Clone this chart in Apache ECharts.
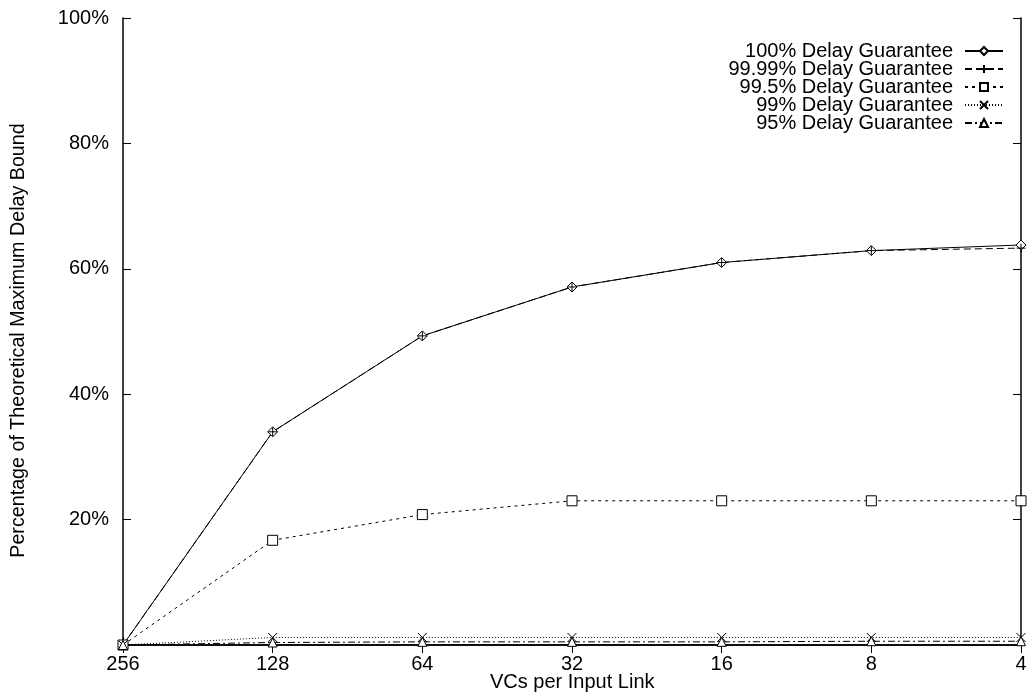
<!DOCTYPE html>
<html><head><meta charset="utf-8">
<script src="https://cdn.jsdelivr.net/npm/echarts@6/dist/echarts.min.js"></script>
<style>html,body{margin:0;padding:0;background:#fff}#c{width:1031px;height:694px}</style>
</head><body><div id="c"></div>
<script>
const categories = ['256','128','64','32','16','8','4'];
const yTicks = [0,20,40,60,80,100];
const xTitle = 'VCs per Input Link';
const yTitle = 'Percentage of Theoretical Maximum Delay Bound';
const seriesNames = ['100% Delay Guarantee','99.99% Delay Guarantee','99.5% Delay Guarantee','99% Delay Guarantee','95% Delay Guarantee'];
const s100  = [0, 34.0, 49.3, 57.1, 61.0, 62.9, 63.8];
const s9999 = [0, 34.0, 49.3, 57.1, 61.0, 62.9, 63.3];
const s995  = [0, 16.7, 20.8, 23.0, 23.0, 23.0, 23.0];
const s99   = [0, 1.2, 1.2, 1.2, 1.2, 1.2, 1.2];
const s95   = [0, 0.4, 0.5, 0.5, 0.5, 0.6, 0.6];

const FONT = 'Liberation Sans, Arial, sans-serif';
const FS = 20;
const plusPath = 'path://M5,0L5,10M0,5L10,5';
const xPath = 'path://M0,0L10,10M10,0L0,10';

function mk(name, data, dash, symbol, size) {
  return {
    name, type: 'line', data, symbol, symbolSize: size,
    showAllSymbol: true,
    lineStyle: {color: '#000', width: 1, type: dash},
    itemStyle: {color: '#fff', borderColor: '#000', borderWidth: 1},
    emphasis: {disabled: true},
    animation: false
  };
}

const chart = echarts.init(document.getElementById('c'), null, {renderer: 'canvas'});
chart.setOption({
  backgroundColor: '#fff',
  animation: false,
  textStyle: {fontFamily: FONT},
  title: {
    text: xTitle, left: 490, top: 672, padding: 0,
    textStyle: {fontFamily: FONT, fontSize: FS, fontWeight: 'normal', color: '#000'}
  },
  grid: {left: 123, right: 10, top: 18, bottom: 49, containLabel: false, outerBoundsMode: 'none'},
  legend: {
    orient: 'vertical', right: 22, top: 36, align: 'right',
    itemWidth: 38, itemHeight: 10, itemGap: -2,
    textStyle: {fontFamily: FONT, fontSize: FS, color: '#000', padding: [0, 7, 0, 0]},
    data: seriesNames
  },
  xAxis: [{
    type: 'category', data: categories, boundaryGap: false,
    axisLine: {lineStyle: {color: '#000', width: 1.5}},
    axisTick: {inside: true, length: 8, lineStyle: {color: '#000'}, alignWithLabel: true},
    axisLabel: {fontFamily: FONT, fontSize: FS, color: '#000', margin: 9},
    splitLine: {show: false}
  }, {
    type: 'category', data: categories, boundaryGap: false, position: 'top',
    axisLine: {lineStyle: {color: '#000', width: 1.5}},
    axisTick: {inside: true, length: 8, lineStyle: {color: '#000'}},
    axisLabel: {show: false}, splitLine: {show: false}
  }],
  yAxis: [{
    type: 'value', min: 0, max: 100, interval: 20,
    name: yTitle, nameLocation: 'middle', nameGap: 94,
    nameTextStyle: {fontFamily: FONT, fontSize: FS - 0.3, color: '#000', padding: [0, 18, 0, 0]},
    axisLine: {show: true, lineStyle: {color: '#000', width: 1.5}},
    axisTick: {show: true, inside: true, length: 8, lineStyle: {color: '#000'}},
    axisLabel: {fontFamily: FONT, fontSize: FS, color: '#000', margin: 14,
      formatter: v => (v === 0 ? '' : v + '%')},
    splitLine: {show: false}
  }, {
    type: 'value', min: 0, max: 100, interval: 20, position: 'right',
    axisLine: {show: true, lineStyle: {color: '#000', width: 1.5}},
    axisTick: {show: true, inside: true, length: 8, lineStyle: {color: '#000'}},
    axisLabel: {show: false}, splitLine: {show: false}
  }],
  series: [
    mk(seriesNames[0], s100, 'solid', 'diamond', 10),
    mk(seriesNames[1], s9999, [7, 4], plusPath, 9),
    mk(seriesNames[2], s995, [3, 4], 'rect', 10),
    mk(seriesNames[3], s99, [1, 2], xPath, 9),
    mk(seriesNames[4], s95, [7, 3, 2, 3], 'triangle', 9)
  ]
});
</script></body></html>
